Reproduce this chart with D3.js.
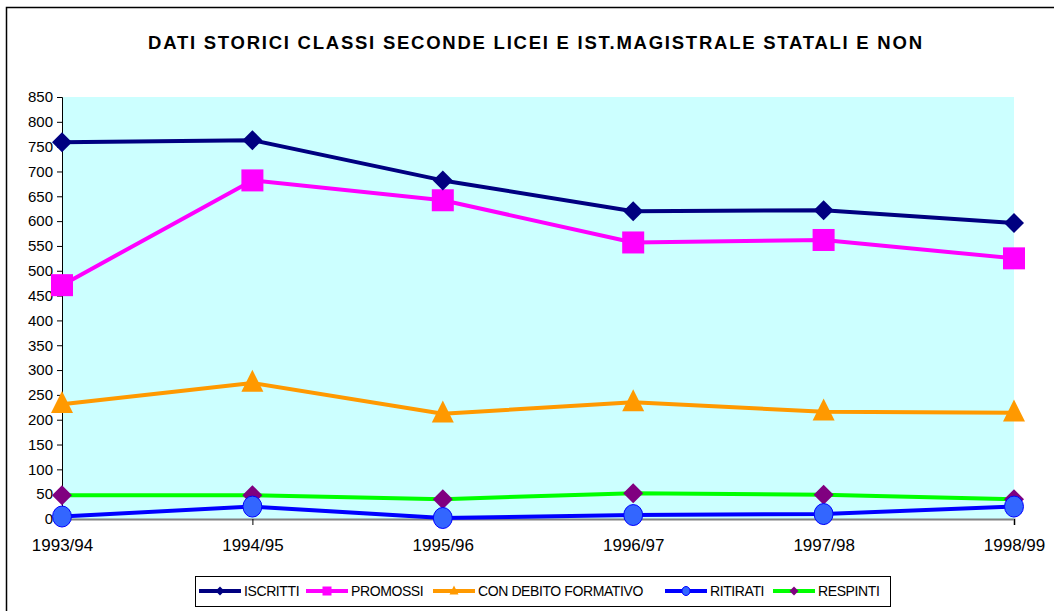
<!DOCTYPE html>
<html>
<head>
<meta charset="utf-8">
<script src="https://cdn.jsdelivr.net/npm/d3@7"></script>
<style>
  body { margin: 0; background: #fff; }
  svg { font-family: "Liberation Sans", Arial, sans-serif; display: block; }
</style>
</head>
<body>
<svg id="chart" width="1054" height="611"></svg>
<script>
const years = ["1993/94", "1994/95", "1995/96", "1996/97", "1997/98", "1998/99"]
const iscritti = [759, 763, 682, 620, 622, 596]
const promossi = [471, 682, 642, 557, 562, 525]
const conDebito = [231, 274, 212, 235, 216, 214]
const ritirati = [5, 25, 2, 8, 10, 25]
const respinti = [48, 48, 40, 52, 49, 40]
const yTicks = d3.range(0, 851, 50)

const series = [
  {name: "ISCRITTI", values: iscritti, color: "#000080", marker: "diamond", fill: "#000080"},
  {name: "PROMOSSI", values: promossi, color: "#FF00FF", marker: "square", fill: "#FF00FF"},
  {name: "CON DEBITO FORMATIVO", values: conDebito, color: "#FF9900", marker: "triangle", fill: "#FF9900"},
  {name: "RITIRATI", values: ritirati, color: "#0000FF", marker: "circle", fill: "#3366FF"},
  {name: "RESPINTI", values: respinti, color: "#00FF00", marker: "diamond", fill: "#800080"}
]

const svg = d3.select("#chart")
const margin = {left: 62, right: 1014, top: 97, bottom: 519}

// outer frame
svg.append("rect").attr("x", 6.5).attr("y", 7.5).attr("width", 1060).attr("height", 620)
  .attr("fill", "none").attr("stroke", "#000").attr("stroke-width", 1.5)

svg.append("text").attr("x", 148).attr("y", 49)
  .attr("textLength", 774).attr("lengthAdjust", "spacing")
  .style("font-size", "18.5px").style("font-weight", "bold")
  .text("DATI STORICI CLASSI SECONDE LICEI E IST.MAGISTRALE STATALI E NON")

const x = d3.scalePoint().domain(years).range([margin.left, margin.right])
const y = d3.scaleLinear().domain([0, 850]).range([margin.bottom, margin.top])

svg.append("rect").attr("x", margin.left).attr("y", margin.top)
  .attr("width", margin.right - margin.left).attr("height", margin.bottom - margin.top)
  .attr("fill", "#CCFFFF")

const yAxis = d3.axisLeft(y).tickValues(yTicks).tickSize(5).tickPadding(4)
const gy = svg.append("g").attr("transform", `translate(${margin.left},0)`).call(yAxis)
gy.selectAll("text").style("font-size", "15px").attr("fill", "#000")
gy.select(".domain").attr("stroke", "#000")

const xAxis = d3.axisBottom(x).tickSize(6).tickPadding(14)
const gx = svg.append("g").attr("transform", `translate(0,${margin.bottom})`).call(xAxis)
gx.selectAll("text").style("font-size", "17px").attr("fill", "#000")
gx.select(".domain").attr("stroke", "#808080").attr("stroke-width", 2)
gx.selectAll(".tick line").attr("stroke", "#000")

const line = d3.line().x((d, i) => x(years[i])).y(d => y(d))

function drawMarker(g, type, cx, cy, s, fill, stroke) {
  if (type === "diamond") {
    g.append("path").attr("d", `M${cx},${cy - s}L${cx + s},${cy}L${cx},${cy + s}L${cx - s},${cy}Z`).attr("fill", fill)
  } else if (type === "square") {
    g.append("rect").attr("x", cx - s).attr("y", cy - s).attr("width", 2 * s).attr("height", 2 * s).attr("fill", fill)
  } else if (type === "triangle") {
    g.append("path").attr("d", `M${cx},${cy - s * 1.2}L${cx + s},${cy + s * 0.8}L${cx - s},${cy + s * 0.8}Z`).attr("fill", fill)
  } else {
    g.append("ellipse").attr("cx", cx).attr("cy", cy).attr("rx", s * 0.9).attr("ry", s)
      .attr("fill", fill).attr("stroke", stroke).attr("stroke-width", 1)
  }
}

const markerSize = {diamond: 10, square: 11, triangle: 11, circle: 10.5}

// draw from last to first so ISCRITTI sits on top
series.slice().reverse().forEach(s => {
  const g = svg.append("g")
  g.append("path").datum(s.values).attr("d", line).attr("fill", "none")
    .attr("stroke", s.color).attr("stroke-width", 4).attr("stroke-linejoin", "round")
  s.values.forEach((v, i) => {
    drawMarker(g, s.marker, x(years[i]), y(v), markerSize[s.marker], s.fill, s.color)
  })
})

// legend
const legend = svg.append("g")
legend.append("rect").attr("x", 195.5).attr("y", 576.5).attr("width", 695).attr("height", 30)
  .attr("fill", "#fff").attr("stroke", "#000")
const legendX = [199, 306, 433, 665, 773]
series.forEach((s, i) => {
  const lx = legendX[i], ly = 591
  legend.append("line").attr("x1", lx).attr("x2", lx + 42).attr("y1", ly).attr("y2", ly)
    .attr("stroke", s.color).attr("stroke-width", 4)
  drawMarker(legend, s.marker, lx + 21, ly, 4.5, s.fill, s.color)
  legend.append("text").attr("x", lx + 45).attr("y", ly + 5).style("font-size", "14px")
    .style("letter-spacing", "-0.4px").text(s.name)
})
</script>
</body>
</html>
